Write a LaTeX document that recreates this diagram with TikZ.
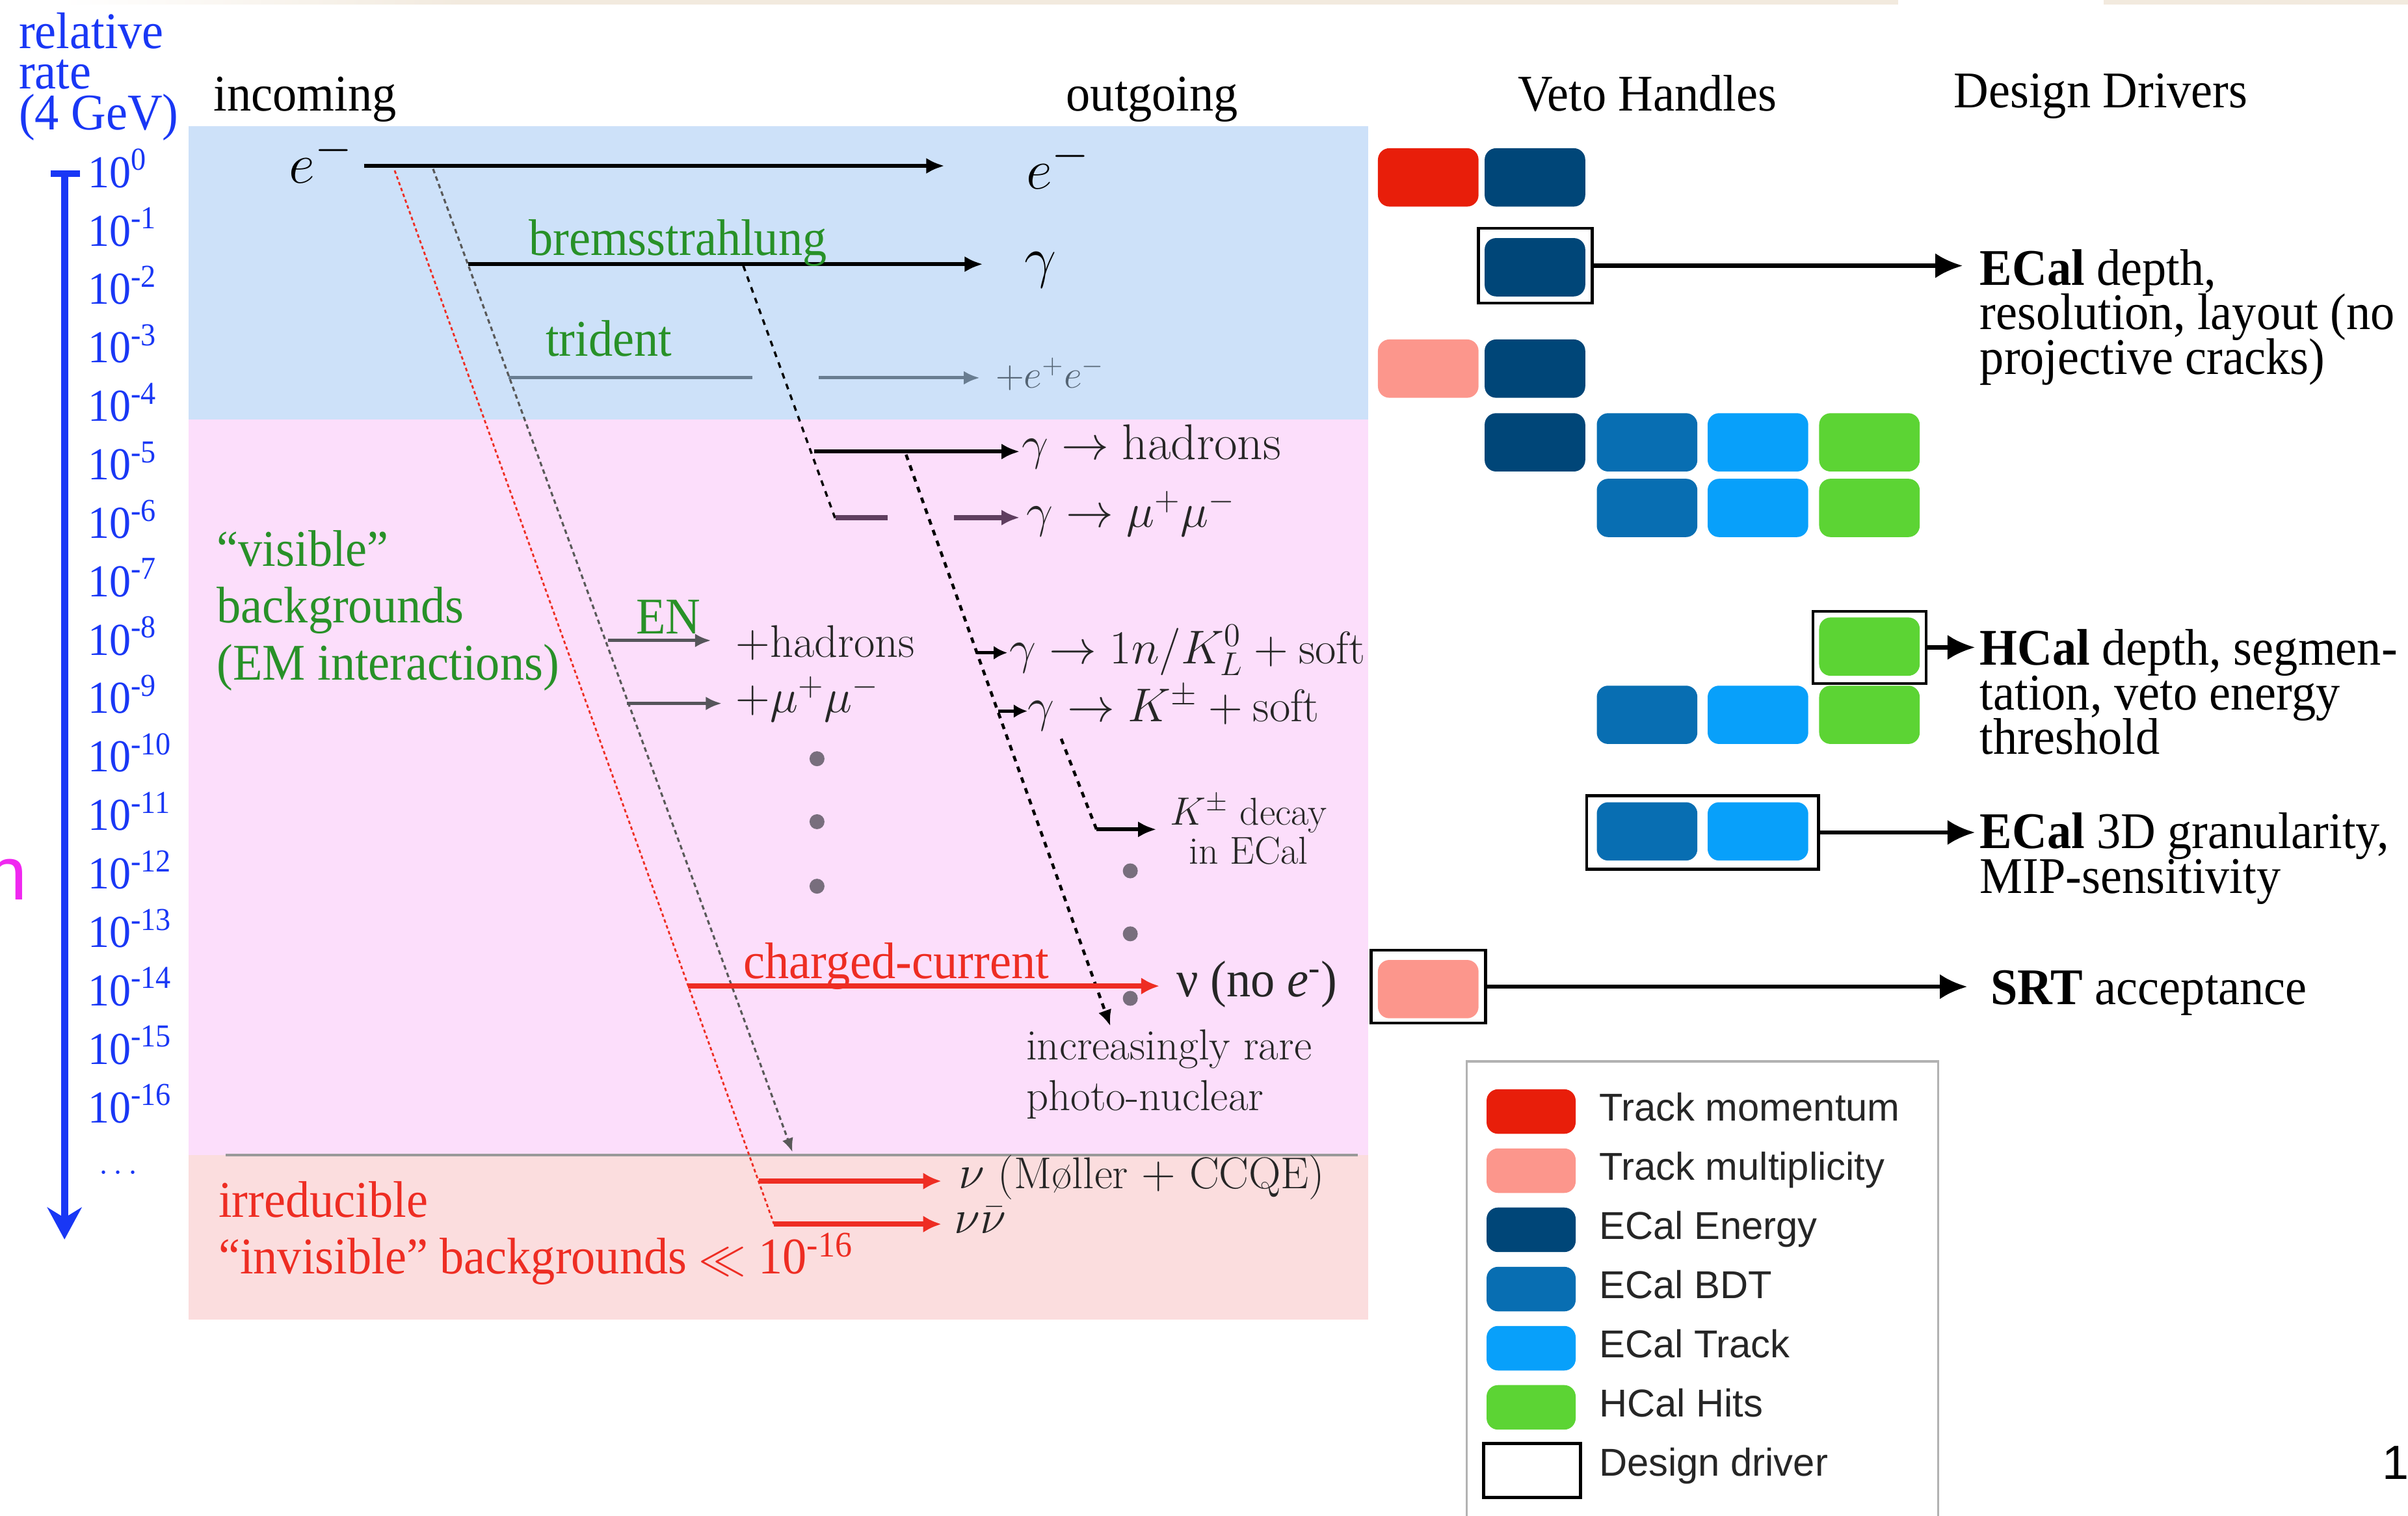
\documentclass[tikz,border=0pt]{standalone}
\usepackage{fontspec}
\usepackage{tikz}
\usepackage{xcolor}
\usetikzlibrary{arrows.meta}

\newfontfamily\tms{Liberation Serif}[FakeStretch=0.94]
\newfontfamily\hlv{Liberation Sans}

\definecolor{bluebg}{RGB}{205,225,249}
\definecolor{pinkbg}{RGB}{252,222,251}
\definecolor{redbg}{RGB}{251,221,222}
\definecolor{beige}{RGB}{242,234,222}
\definecolor{ratecol}{RGB}{25,55,245}
\definecolor{bggreen}{RGB}{40,145,40}
\definecolor{bgred}{RGB}{238,45,35}
\definecolor{tridcol}{RGB}{105,125,145}
\definecolor{mumucol}{RGB}{95,62,95}
\definecolor{engray}{RGB}{85,85,90}
\definecolor{dotgray}{RGB}{120,110,125}
\definecolor{trkmom}{RGB}{232,30,10}
\definecolor{trkmul}{RGB}{252,150,140}
\definecolor{ecalen}{RGB}{0,70,120}
\definecolor{ecalbdt}{RGB}{8,110,178}
\definecolor{ecaltrk}{RGB}{8,160,250}
\definecolor{hcalhit}{RGB}{92,212,52}
\definecolor{pagemag}{RGB}{240,40,240}

\begin{document}
\begin{tikzpicture}[x=0.023616cm, y=-0.023616cm,
  handle/.style={rounded corners=5pt, minimum width=1.547cm, minimum height=0.897cm, inner sep=0pt},
  ddriver/.style={draw=black, line width=1.3pt, inner sep=0pt},
  swatch/.style={rounded corners=5pt, minimum width=1.37cm, minimum height=0.685cm, inner sep=0pt},
  ratelbl/.style={anchor=base west, inner sep=0pt, text=ratecol, font=\tms\fontsize{20}{20}\selectfont},
  serif/.style={inner sep=0pt, font=\tms\fontsize{22.5}{20}\selectfont},
  cmlbl/.style={anchor=base west, inner sep=0pt, text=black!85, font=\fontsize{20}{20}\selectfont},
  legtext/.style={anchor=base west, inner sep=0pt, text=black!85, font=\hlv\fontsize{17}{17}\selectfont},
  track/.style={line width=1.6pt, -{Latex[length=8pt,width=7pt]}},
  ministub/.style={line width=1.6pt, -{Latex[length=6pt,width=6pt]}},
  redtrack/.style={bgred, line width=2.2pt, -{Latex[length=8pt,width=7.5pt]}},
  drvarrow/.style={line width=1.8pt, -{Latex[length=12pt,width=11pt]}},
  reddots/.style={bgred, line width=0.8pt, dash pattern=on 1.5pt off 1.2pt},
  graydots/.style={black!65, line width=0.9pt, dash pattern=on 2pt off 1.5pt},
  blackdash/.style={black, line width=1.3pt, dash pattern=on 2.5pt off 2.5pt}]
  \useasboundingbox (0,0) rectangle (1568,987);

  % Coloured bands behind the processes
  \shade[left color=white, right color=beige] (40,0) rectangle (300,2.8);
  \fill[beige] (300,0) rectangle (1236,2.8);
  \fill[beige] (1370,0) rectangle (1568,2.8);
  \fill[bluebg] (123,82) rectangle (891,273);
  \fill[pinkbg] (123,273) rectangle (891,752);
  \fill[redbg] (123,752) rectangle (891,859);
  \draw[black!40, line width=1.2pt] (147,752) -- (884,752);

  % Column headers
  \node[serif, anchor=base west] (hdin) at (139,72) {incoming};
  \node[serif, anchor=base west] (hdout) at (694,72) {outgoing};
  \node[serif, anchor=base west] (hdveto) at (988,72) {Veto Handles};
  \node[serif, anchor=base west] (hddsg) at (1272,70) {Design Drivers};

  % Rate axis
  \node[anchor=north west, inner sep=0pt, align=left, text=ratecol, font={\tms\fontsize{22.5}{17.8}\selectfont\lineskiplimit=-20pt}] (ratehd) at (12,8) {relative\\rate\\(4 GeV)};
  \coordinate (axtop) at (42,113);
  \coordinate (axbot) at (42,807);
  \draw[ratecol, line width=3.2pt, -{Stealth[length=14pt,width=15pt]}] (axtop) -- (axbot);
  \draw[ratecol, line width=3pt] (33,113) -- (52,113);
  \node[ratelbl] (r0) at (57,122) {10\textsuperscript{0}};
  \node[ratelbl] (r1) at (57,160.1) {10\textsuperscript{-1}};
  \node[ratelbl] (r2) at (57,198.1) {10\textsuperscript{-2}};
  \node[ratelbl] (r3) at (57,236.2) {10\textsuperscript{-3}};
  \node[ratelbl] (r4) at (57,274.2) {10\textsuperscript{-4}};
  \node[ratelbl] (r5) at (57,312.3) {10\textsuperscript{-5}};
  \node[ratelbl] (r6) at (57,350.4) {10\textsuperscript{-6}};
  \node[ratelbl] (r7) at (57,388.4) {10\textsuperscript{-7}};
  \node[ratelbl] (r8) at (57,426.5) {10\textsuperscript{-8}};
  \node[ratelbl] (r9) at (57,464.5) {10\textsuperscript{-9}};
  \node[ratelbl] (r10) at (57,502.6) {10\textsuperscript{-10}};
  \node[ratelbl] (r11) at (57,540.7) {10\textsuperscript{-11}};
  \node[ratelbl] (r12) at (57,578.7) {10\textsuperscript{-12}};
  \node[ratelbl] (r13) at (57,616.8) {10\textsuperscript{-13}};
  \node[ratelbl] (r14) at (57,654.8) {10\textsuperscript{-14}};
  \node[ratelbl] (r15) at (57,692.9) {10\textsuperscript{-15}};
  \node[ratelbl] (r16) at (57,731) {10\textsuperscript{-16}};
  \node[inner sep=0pt, text=ratecol, font=\fontsize{14}{14}\selectfont] (rdots) at (77,764) {$\cdots$};

  % Dotted guides running down the rate scale
  \coordinate (rd0) at (257,111);
  \coordinate (rd1) at (504,797);
  \draw[reddots] (rd0) -- (rd1);
  \coordinate (gd0) at (282,110);
  \coordinate (gd1) at (516,750);
  \draw[graydots, -{Latex[length=6pt,width=5pt]}] (gd0) -- (gd1);
  \coordinate (bd0) at (484,173);
  \coordinate (bd1) at (544,338);
  \draw[blackdash, line width=1pt] (bd0) -- (bd1);
  \coordinate (hd0) at (590,296);
  \coordinate (hd1) at (723,668);
  \draw[blackdash, -{Latex[length=7pt,width=6pt]}] (hd0) -- (hd1);
  \coordinate (kd0) at (691,481);
  \coordinate (kd1) at (714,540);
  \draw[blackdash] (kd0) -- (kd1);

  % Electron line, bremsstrahlung and trident
  \node[anchor=base west, inner sep=0pt, font=\fontsize{30}{30}\selectfont] (ein) at (188,119) {$e^-$};
  \coordinate (e0) at (237,108);
  \coordinate (e1) at (615,108);
  \draw[track] (e0) -- (e1);
  \coordinate (br0) at (305,172);
  \coordinate (br1) at (640,172);
  \draw[track] (br0) -- (br1);
  \coordinate (tr0) at (331,246);
  \coordinate (tr1) at (490,246);
  \coordinate (tr2) at (533,246);
  \coordinate (tr3) at (638,246);
  \draw[tridcol, line width=1.4pt] (tr0) -- (tr1);
  \draw[tridcol, line width=1.4pt, -{Latex[length=7pt,width=6pt]}] (tr2) -- (tr3);

  % Photon conversions
  \coordinate (ha0) at (530,294);
  \coordinate (ha1) at (664,294);
  \draw[track] (ha0) -- (ha1);
  \coordinate (mm0) at (544,337);
  \coordinate (mm1) at (578,337);
  \coordinate (mm2) at (621,337);
  \coordinate (mm3) at (664,337);
  \draw[mumucol, line width=2.2pt] (mm0) -- (mm1);
  \draw[mumucol, line width=2.2pt, -{Latex[length=8pt,width=7pt]}] (mm2) -- (mm3);

  % Electro-nuclear
  \coordinate (en0) at (396,417);
  \coordinate (en1) at (463,417);
  \draw[engray, line width=1.5pt, -{Latex[length=7pt,width=6pt]}] (en0) -- (en1);
  \coordinate (em0) at (408,458);
  \coordinate (em1) at (470,458);
  \draw[engray, line width=1.5pt, -{Latex[length=7pt,width=6pt]}] (em0) -- (em1);

  % Photo-nuclear branches
  \coordinate (kl0) at (636,425);
  \coordinate (kl1) at (656,425);
  \draw[ministub] (kl0) -- (kl1);
  \coordinate (kc0) at (650,463);
  \coordinate (kc1) at (669,463);
  \draw[ministub] (kc0) -- (kc1);
  \coordinate (kd2) at (753,540);
  \draw[track] (kd1) -- (kd2);

  % Charged current and invisible channels
  \coordinate (cc0) at (448,642);
  \coordinate (cc1) at (755,642);
  \draw[redtrack] (cc0) -- (cc1);
  \coordinate (mo0) at (494,769);
  \coordinate (mo1) at (613,769);
  \draw[redtrack] (mo0) -- (mo1);
  \coordinate (nn0) at (504,797);
  \coordinate (nn1) at (613,797);
  \draw[redtrack] (nn0) -- (nn1);

  % Rarer processes
  \fill[dotgray] (532,494) circle (0.115cm);
  \fill[dotgray] (532,535) circle (0.115cm);
  \fill[dotgray] (532,577) circle (0.115cm);
  \fill[dotgray] (736,567) circle (0.115cm);
  \fill[dotgray] (736,608) circle (0.115cm);
  \fill[dotgray] (736,650) circle (0.115cm);

  % Process labels
  \node[serif, anchor=base west, text=bggreen] (lbrems) at (344,166) {bremsstrahlung};
  \node[serif, anchor=base west, text=bggreen] (ltrid) at (355,232) {trident};
  \node[serif, anchor=base west, text=bggreen] (len) at (414,412.5) {EN};
  \node[serif, anchor=base west, text=bgred] (lcc) at (484,637) {charged-current};
  \node[anchor=north west, inner sep=0pt, align=left, text=bggreen, font={\tms\fontsize{22.5}{24.9}\selectfont\lineskiplimit=-20pt}] (vis) at (141,345) {“visible”\\backgrounds\\(EM interactions)};
  \node[anchor=north west, inner sep=0pt, align=left, text=bgred, font={\tms\fontsize{22.5}{24.7}\selectfont\lineskiplimit=-20pt}] (invis) at (142,769) {irreducible\\“invisible” backgrounds $\ll$ 10\textsuperscript{-16}};

  % Outgoing states
  \node[anchor=base west, inner sep=0pt, font=\fontsize{30}{30}\selectfont] (eout) at (668,123) {$e^-$};
  \node[anchor=base west, inner sep=0pt, font=\fontsize{28}{28}\selectfont] (gout) at (667,180) {$\gamma$};
  \node[cmlbl, text=tridcol!80!black, font=\fontsize{17}{17}\selectfont] (lee) at (648,252.5) {$+e^+e^-$};
  \node[cmlbl, font=\fontsize{22}{22}\selectfont] (lhad) at (665,299) {$\gamma \to \mathrm{hadrons}$};
  \node[cmlbl, font=\fontsize{22}{22}\selectfont] (lmumu) at (668,343.4) {$\gamma \to \mu^+\mu^-$};
  \node[cmlbl] (lenhad) at (479,428) {$+$hadrons};
  \node[cmlbl] (lenmu) at (479,464) {$+\mu^+\mu^-$};
  \node[cmlbl] (lkl) at (657,432) {$\gamma \to 1n/K^0_L + \mathrm{soft}$};
  \node[cmlbl] (lkc) at (669,470) {$\gamma \to K^\pm + \mathrm{soft}$};
  \node[anchor=north, inner sep=0pt, align=center, text=black!85, font={\fontsize{17}{17}\selectfont\lineskiplimit=-20pt}] (lkdec) at (813,517) {$K^{\pm}$ decay\\in ECal};
  \node[serif, anchor=base west, text=black!85] (lnoe) at (766,649) {ν (no \textit{e}\textsuperscript{-})};
  \node[anchor=north west, inner sep=0pt, align=left, text=black!85, font={\fontsize{19}{22.2}\selectfont\lineskiplimit=-20pt}] (lrare) at (668,670) {increasingly rare\\photo-nuclear};
  \node[cmlbl, font=\fontsize{19.5}{19.5}\selectfont] (lmol) at (624,774) {$\nu$ (Møller $+$ CCQE)};
  \node[cmlbl] (lnunu) at (621,803) {$\nu\bar{\nu}$};

  % Veto handles row by row
  \node[handle, fill=trkmom] (tmA) at (930,115.5) {};
  \node[handle, fill=ecalen] (enA) at (999.5,115.5) {};
  \node[handle, fill=ecalen] (enB) at (999.5,174) {};
  \node[ddriver, minimum width=1.75cm, minimum height=1.15cm] (drvB) at (999.8,173) {};
  \node[handle, fill=trkmul] (tuC) at (930,240) {};
  \node[handle, fill=ecalen] (enC) at (999.5,240) {};
  \node[handle, fill=ecalen] (enD) at (999.5,288) {};
  \node[handle, fill=ecalbdt] (bdD) at (1072.5,288) {};
  \node[handle, fill=ecaltrk] (tkD) at (1144.7,288) {};
  \node[handle, fill=hcalhit] (hcD) at (1217.3,288) {};
  \node[handle, fill=ecalbdt] (bdE) at (1072.5,330.7) {};
  \node[handle, fill=ecaltrk] (tkE) at (1144.7,330.7) {};
  \node[handle, fill=hcalhit] (hcE) at (1217.3,330.7) {};
  \node[handle, fill=hcalhit] (hcF) at (1217.3,421) {};
  \node[ddriver, minimum width=1.74cm, minimum height=1.11cm] (drvF) at (1217.4,421.5) {};
  \node[handle, fill=ecalbdt] (bdG) at (1072.5,465.4) {};
  \node[handle, fill=ecaltrk] (tkG) at (1144.7,465.4) {};
  \node[handle, fill=hcalhit] (hcG) at (1217.3,465.4) {};
  \node[handle, fill=ecalbdt] (bdH) at (1072.5,541.3) {};
  \node[handle, fill=ecaltrk] (tkH) at (1144.7,541.3) {};
  \node[ddriver, minimum width=3.566cm, minimum height=1.13cm] (drvH) at (1108.6,542) {};
  \node[handle, fill=trkmul] (tuI) at (930,644) {};
  \node[ddriver, minimum width=1.76cm, minimum height=1.12cm] (drvI) at (930,642.4) {};

  % Design drivers
  \node[anchor=north west, inner sep=0pt, align=left, font={\tms\fontsize{22.5}{19.5}\selectfont\lineskiplimit=-20pt}] (dsgB) at (1289,162) {\textbf{ECal} depth,\\resolution, layout (no\\projective cracks)};
  \node[anchor=north west, inner sep=0pt, align=left, font={\tms\fontsize{22.5}{19.5}\selectfont\lineskiplimit=-20pt}] (dsgF) at (1289,409.5) {\textbf{HCal} depth, segmen-\\tation, veto energy\\threshold};
  \node[anchor=north west, inner sep=0pt, align=left, font={\tms\fontsize{22.5}{19.5}\selectfont\lineskiplimit=-20pt}] (dsgH) at (1289,529) {\textbf{ECal} 3D granularity,\\MIP-sensitivity};
  \node[serif, anchor=base west] (dsgI) at (1296,654) {\textbf{SRT} acceptance};
  \coordinate (tipB) at (1278,173);
  \draw[drvarrow] (drvB) -- (tipB);
  \coordinate (tipF) at (1286,421.5);
  \draw[drvarrow] (drvF) -- (tipF);
  \coordinate (tipH) at (1286,542);
  \draw[drvarrow] (drvH) -- (tipH);
  \coordinate (tipI) at (1281,642.4);
  \draw[drvarrow] (drvI) -- (tipI);

  % Legend box
  \draw[black!30, line width=1pt] (955,995) -- (955,691) -- (1262,691) -- (1262,995);
  \node[swatch, fill=trkmom] (lgmom) at (997,723.7) {};
  \node[legtext] (ltmom) at (1041,730) {Track momentum};
  \node[swatch, fill=trkmul] (lgmul) at (997,762.2) {};
  \node[legtext] (ltmul) at (1041,768.5) {Track multiplicity};
  \node[swatch, fill=ecalen] (lgen) at (997,800.7) {};
  \node[legtext] (lten) at (1041,807) {ECal Energy};
  \node[swatch, fill=ecalbdt] (lgbdt) at (997,839.3) {};
  \node[legtext] (ltbdt) at (1041,845.5) {ECal BDT};
  \node[swatch, fill=ecaltrk] (lgtrk) at (997,877.8) {};
  \node[legtext] (lttrk) at (1041,884) {ECal Track};
  \node[swatch, fill=hcalhit] (lghit) at (997,916.3) {};
  \node[legtext] (lthit) at (1041,922.5) {HCal Hits};
  \node[ddriver, minimum width=1.49cm, minimum height=0.83cm] (lgdrv) at (997.5,957.5) {};
  \node[legtext] (ltdrv) at (1041,961) {Design driver};

  % Cut-off marks at the slide edges
  \node[anchor=base west, inner sep=0pt, text=pagemag, font=\hlv\fontsize{33}{33}\selectfont] (edgen) at (-10,586) {n};
  \node[anchor=base west, inner sep=0pt, font=\hlv\fontsize{21}{21}\selectfont] (pgno) at (1551,963) {1};
\end{tikzpicture}
\end{document}
